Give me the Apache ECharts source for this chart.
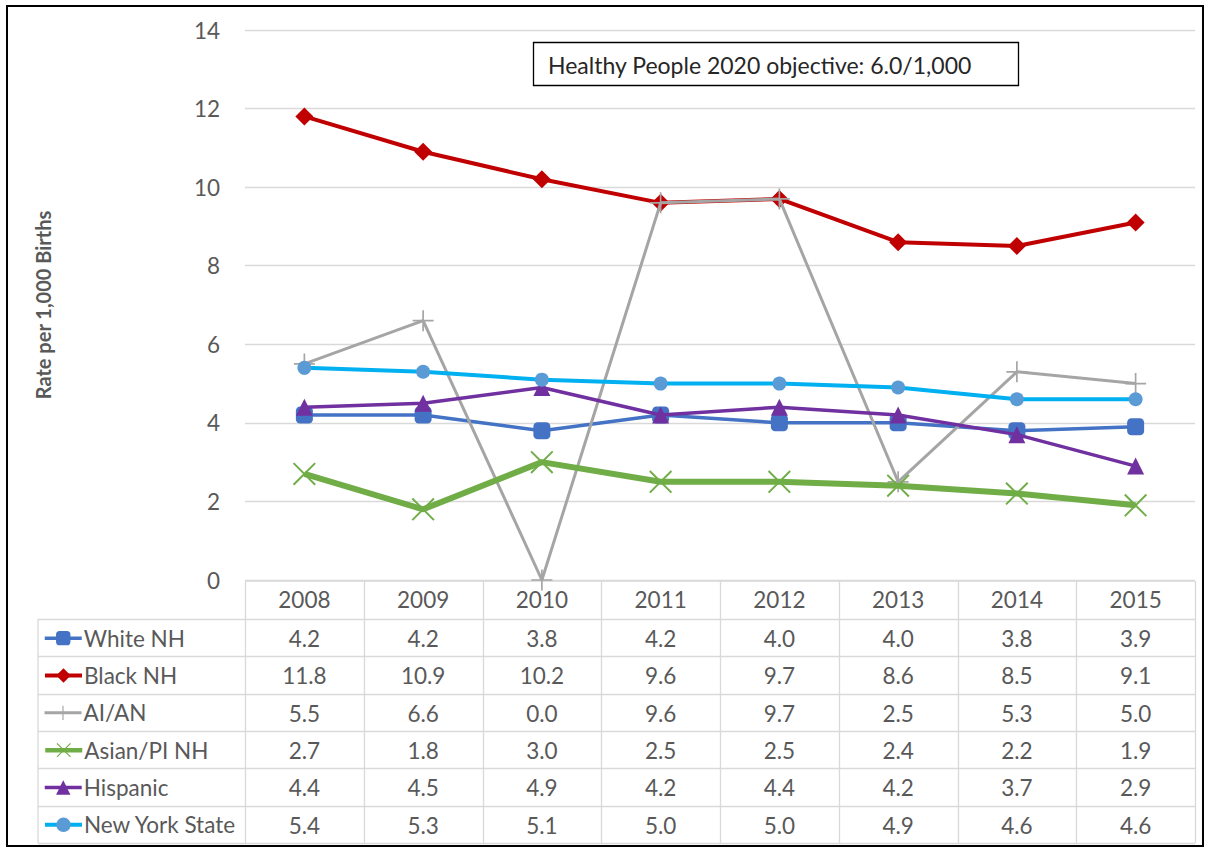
<!DOCTYPE html>
<html>
<head>
<meta charset="utf-8">
<script src="https://cdn.jsdelivr.net/npm/echarts@6/dist/echarts.min.js"></script>
<style>
html,body{margin:0;padding:0;background:#fff;}
#chart{width:1205px;height:848px;}
</style>
</head>
<body>
<div id="chart"></div>
<script>
// ---- data ----
const years = ['2008','2009','2010','2011','2012','2013','2014','2015'];
const whiteNH   = [4.2, 4.2, 3.8, 4.2, 4.0, 4.0, 3.8, 3.9];
const blackNH   = [11.8, 10.9, 10.2, 9.6, 9.7, 8.6, 8.5, 9.1];
const aian      = [5.5, 6.6, 0.0, 9.6, 9.7, 2.5, 5.3, 5.0];
const asianPI   = [2.7, 1.8, 3.0, 2.5, 2.5, 2.4, 2.2, 1.9];
const hispanic  = [4.4, 4.5, 4.9, 4.2, 4.4, 4.2, 3.7, 2.9];
const nys       = [5.4, 5.3, 5.1, 5.0, 5.0, 4.9, 4.6, 4.6];
const seriesNames = ['White NH','Black NH','AI/AN','Asian/PI NH','Hispanic','New York State'];
const yTicks = [0, 2, 4, 6, 8, 10, 12, 14];
const annotationText = 'Healthy People 2020 objective: 6.0/1,000';
const yTitle = 'Rate per 1,000 Births';

// ---- layout ----
const W = 1205, H = 848;
const gridL = 245, gridR = 1195, gridT = 30, gridB = 580;
const headTop = 581, headBot = 619, rowH = 37.33, tableL = 38;
const FONT = 'Lato, "Open Sans", sans-serif';
const FS = 22.5;
const TXT = '#595959';
const LINE = '#D9D9D9';

const allData = [whiteNH, blackNH, aian, asianPI, hispanic, nys];
const plusPath = 'path://M0,4.6 H10 V5.4 H0 Z M4.6,0 H5.4 V10 H4.6 Z';
const xPath = 'path://M0,0.6 L0.6,0 L10,9.4 L9.4,10 Z M0.6,10 L0,9.4 L9.4,0 L10,0.6 Z';

const styles = [
  {color:'#4472C4', width:3.5, symbol:'roundRect', size:17},
  {color:'#C00000', width:4,   symbol:'diamond',   size:18},
  {color:'#A5A5A5', width:3,   symbol:plusPath,    size:21},
  {color:'#70AD47', width:6,   symbol:xPath,       size:23},
  {color:'#7030A0', width:3.5, symbol:'triangle',  size:17},
  {color:'#00B0F0', width:4,   symbol:'circle',    size:14, markerColor:'#5B9BD5'}
];

const series = seriesNames.map((name, i) => ({
  name: name,
  type: 'line',
  data: allData[i],
  symbol: styles[i].symbol,
  symbolSize: styles[i].size,
  showSymbol: true,
  lineStyle: {color: styles[i].color, width: styles[i].width},
  itemStyle: {color: styles[i].markerColor || styles[i].color, borderWidth: 0},
  emphasis: {disabled: true},
  z: 2 + i,
  animation: false
}));

// ---- table graphics ----
const colW = (gridR - gridL) / years.length;
const graphics = [];
const tableBot = headBot + rowH * seriesNames.length;
graphics.push({type:'line', shape:{x1:gridL, y1:headTop, x2:gridR, y2:headTop}, style:{stroke:LINE, lineWidth:1.3}, silent:true});
for (let r = 0; r <= seriesNames.length; r++) {
  const y = Math.round(headBot + r * rowH) + 0.5;
  graphics.push({type:'line', shape:{x1:tableL, y1:y, x2:gridR, y2:y}, style:{stroke:LINE, lineWidth:1.3}, silent:true});
}
graphics.push({type:'line', shape:{x1:tableL, y1:headBot, x2:tableL, y2:tableBot}, style:{stroke:LINE, lineWidth:1.3}, silent:true});
for (let c = 0; c <= years.length; c++) {
  const x = Math.round(gridL + c * colW) + 0.5;
  graphics.push({type:'line', shape:{x1:x, y1:headTop, x2:x, y2:tableBot}, style:{stroke:LINE, lineWidth:1.3}, silent:true});
}
allData.forEach((arr, r) => {
  arr.forEach((v, c) => {
    graphics.push({
      type:'text', silent:true,
      x: gridL + (c + 0.5) * colW,
      y: headBot + (r + 0.5) * rowH + 1,
      style:{text: v.toFixed(1), fill:TXT, font:FS + 'px ' + FONT, textAlign:'center', textVerticalAlign:'middle'}
    });
  });
});
graphics.push({type:'rect', shape:{x:533.5, y:42.5, width:485, height:43}, style:{fill:'#fff', stroke:'#000', lineWidth:1.3}, z:10, silent:true});
graphics.push({type:'text', x:548, y:65, z:11, silent:true, style:{text:annotationText, fill:'#262626', font:'23px ' + FONT, textVerticalAlign:'middle'}});
graphics.push({type:'rect', shape:{x:7, y:6, width:1196, height:840}, style:{fill:'none', stroke:'#000', lineWidth:2}, z:20, silent:true});

// ---- one legend per table row ----
const legends = seriesNames.map((name, r) => ({
  orient:'horizontal', left:43, top: headBot + (r + 0.5) * rowH - 11, padding:0,
  itemWidth:37, itemHeight:18, itemGap:0,
  selectedMode:false,
  lineStyle:{width: Math.min(styles[r].width, 4.5)},
  textStyle:{color:TXT, fontSize:FS, fontFamily:FONT, padding:[0,0,0,-3]},
  data:[name]
}));

const chart = echarts.init(document.getElementById('chart'), null, {renderer:'svg'});
chart.setOption({
  backgroundColor:'#fff',
  animation:false,
  textStyle:{fontFamily:FONT},
  grid:{left:gridL, right:W - gridR, top:gridT, bottom:H - gridB, containLabel:false},
  xAxis:{
    type:'category', data:years, boundaryGap:true,
    axisLine:{show:false}, axisTick:{show:false},
    axisLabel:{color:TXT, fontSize:FS, fontFamily:FONT, margin:8},
    splitLine:{show:false}
  },
  yAxis:{
    type:'value', min:yTicks[0], max:yTicks[yTicks.length-1], interval:2,
    name:yTitle, nameLocation:'middle', nameRotate:90, nameGap:192,
    nameTextStyle:{color:TXT, fontSize:20, fontWeight:'bold', fontFamily:FONT},
    axisLine:{show:false}, axisTick:{show:false},
    axisLabel:{color:TXT, fontSize:FS, fontFamily:FONT, margin:25},
    splitLine:{lineStyle:{color:LINE, width:1.3}}
  },
  legend:legends,
  graphic:graphics,
  series:series
});
</script>
</body>
</html>
